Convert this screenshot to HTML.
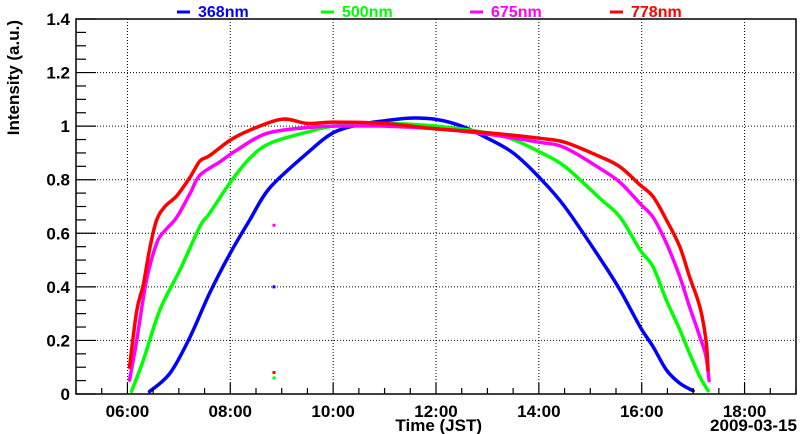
<!DOCTYPE html>
<html><head><meta charset="utf-8"><style>
html,body{margin:0;padding:0;background:#fff;}
svg{display:block;font-family:"Liberation Sans",Arial,sans-serif;font-weight:bold;}
</style></head><body>
<svg id="chart" width="800" height="434" viewBox="0 0 800 434"></svg>
<script>
const xTicks=[6,8,10,12,14,16,18];
const xTickLabels=["06:00","08:00","10:00","12:00","14:00","16:00","18:00"];
const yTicks=[0,0.2,0.4,0.6,0.8,1,1.2,1.4];
const yTickLabels=["0","0.2","0.4","0.6","0.8","1","1.2","1.4"];
const seriesNames=["368nm","500nm","675nm","778nm"];
const seriesColors=["#0000ff","#00ff00","#ff00ff","#ff0000"];
const t368=[6.43,6.83,7.22,7.6,8.0,8.38,8.77,9.5,10,10.5,11,11.5,12,12.5,13,13.5,14,14.5,15.19,15.58,15.97,16.22,16.48,16.74,17.0];
const v368=[0.009,0.078,0.214,0.377,0.526,0.65,0.77,0.9,0.975,1.005,1.02,1.03,1.025,1.0,0.955,0.9,0.81,0.7,0.506,0.388,0.25,0.177,0.09,0.04,0.012];
const t500=[6.08,6.31,6.63,7.02,7.41,7.6,8.0,8.38,8.77,9.5,10,11,12,13,13.5,14,14.5,15.19,15.58,15.97,16.22,16.48,16.74,16.93,17.13,17.29];
const v500=[0.01,0.127,0.313,0.463,0.625,0.675,0.79,0.88,0.936,0.978,1.0,1.01,1.0,0.975,0.95,0.905,0.85,0.73,0.66,0.537,0.475,0.35,0.24,0.152,0.065,0.012];
const t675=[6.04,6.18,6.37,6.57,6.73,6.96,7.22,7.41,7.8,8.12,8.71,9.5,10,11,12,13,14,14.5,15.19,15.58,15.97,16.22,16.48,16.74,16.93,17.13,17.25,17.31];
const v675=[0.052,0.2,0.425,0.563,0.61,0.66,0.75,0.817,0.867,0.91,0.973,0.995,1.0,1.0,0.99,0.97,0.94,0.92,0.842,0.79,0.71,0.66,0.563,0.438,0.326,0.214,0.14,0.05];
const t778=[6.04,6.18,6.31,6.44,6.57,6.73,6.96,7.22,7.41,7.6,8.0,8.38,9.0,9.5,10,11,12,13,14,14.5,15.19,15.58,15.97,16.22,16.48,16.74,16.93,17.13,17.25,17.29];
const v778=[0.10,0.31,0.41,0.55,0.65,0.70,0.74,0.81,0.87,0.89,0.948,0.985,1.026,1.01,1.015,1.01,0.99,0.975,0.955,0.94,0.886,0.848,0.78,0.737,0.65,0.55,0.438,0.326,0.20,0.09];
const outlierTime=[8.85,8.85,8.85,8.85];
const outlierVals=[0.40,0.06,0.63,0.08];

const L=76,R=796,T=19,B=394,X0=5,X1=19,Y0=0,Y1=1.4;
const xs=h=>L+(h-X0)/(X1-X0)*(R-L);
const ys=v=>B-(v-Y0)/(Y1-Y0)*(B-T);
const NS="http://www.w3.org/2000/svg";
const svg=document.getElementById('chart');
function mk(tag,attrs,parent){const e=document.createElementNS(NS,tag);for(const k in attrs)e.setAttribute(k,attrs[k]);(parent||svg).appendChild(e);return e;}
function smooth(pts){let d='M'+pts[0][0].toFixed(1)+' '+pts[0][1].toFixed(1);
  for(let i=0;i<pts.length-1;i++){const p0=pts[Math.max(0,i-1)],p1=pts[i],p2=pts[i+1],p3=pts[Math.min(pts.length-1,i+2)];
    const c1=[p1[0]+(p2[0]-p0[0])/6,p1[1]+(p2[1]-p0[1])/6],c2=[p2[0]-(p3[0]-p1[0])/6,p2[1]-(p3[1]-p1[1])/6];
    d+=' C'+c1[0].toFixed(1)+' '+c1[1].toFixed(1)+' '+c2[0].toFixed(1)+' '+c2[1].toFixed(1)+' '+p2[0].toFixed(1)+' '+p2[1].toFixed(1);}
  return d;}

const grid=mk('g',{});


xTicks.forEach(h=>{const l=mk('line',{x1:xs(h),x2:xs(h),y1:T,y2:B,stroke:'#000','stroke-width':1,'stroke-dasharray':'1 2'},grid);

});
yTicks.forEach(v=>{if(v===0)return;const l=mk('line',{x1:L,x2:R,y1:ys(v),y2:ys(v),stroke:'#000','stroke-width':1,'stroke-dasharray':'1 2'},grid);

});

const allT=[t368,t500,t675,t778],allV=[v368,v500,v675,v778];
allT.forEach((tt,i)=>{
  const pts=tt.map((h,j)=>[xs(h),ys(allV[i][j])]);
  const p=mk('path',{d:smooth(pts),fill:'none',stroke:seriesColors[i],'stroke-width':3.5,'stroke-linejoin':'round','stroke-linecap':'round'});
  
  
  const c=mk('rect',{x:xs(outlierTime[i])-1.5,y:ys(outlierVals[i])-1.5,width:3,height:3,fill:seriesColors[i]});
  
  
});

const fr=mk('rect',{x:L,y:T,width:R-L,height:B-T,fill:'none',stroke:'#000','stroke-width':1.5});



for(let k=0;k<=28;k++){const v=k*0.05;const major=k%4===0;
  const l=mk('line',{x1:L,x2:L+(major?20:10),y1:ys(v),y2:ys(v),stroke:'#000','stroke-width':1.2});
  
  }
yTicks.forEach((v,i)=>{const t=mk('text',{x:70,y:ys(v)+6,'text-anchor':'end','font-size':17});t.textContent=yTickLabels[i];
  
  });
for(let k=0;k<=28;k++){const h=X0+k*0.5;const major=(h%2===0);
  const l=mk('line',{x1:xs(h),x2:xs(h),y1:B,y2:B-(major?11:6),stroke:'#000','stroke-width':1.2});
  
  }
xTicks.forEach((h,i)=>{const t=mk('text',{x:xs(h),y:417,'text-anchor':'middle','font-size':17});t.textContent=xTickLabels[i];
  
  });

const xt=mk('text',{x:482,y:431,'text-anchor':'end','font-size':17});xt.textContent='Time (JST)';


const dt=mk('text',{x:797,y:431,'text-anchor':'end','font-size':17});dt.textContent='2009-03-15';


const yt=mk('text',{x:0,y:0,'text-anchor':'end','font-size':17,transform:'translate(19,20) rotate(-90)'});yt.textContent='Intensity (a.u.)';



const legX=[177,321,470,610];
seriesNames.forEach((n,i)=>{
  const g=mk('g',{});
  
  
  mk('line',{x1:legX[i],x2:legX[i]+13,y1:12,y2:12,stroke:seriesColors[i],'stroke-width':3},g);
  const t=mk('text',{x:legX[i]+21,y:17,'font-size':16,fill:seriesColors[i]},g);t.textContent=n;
});
</script>
</body></html>
